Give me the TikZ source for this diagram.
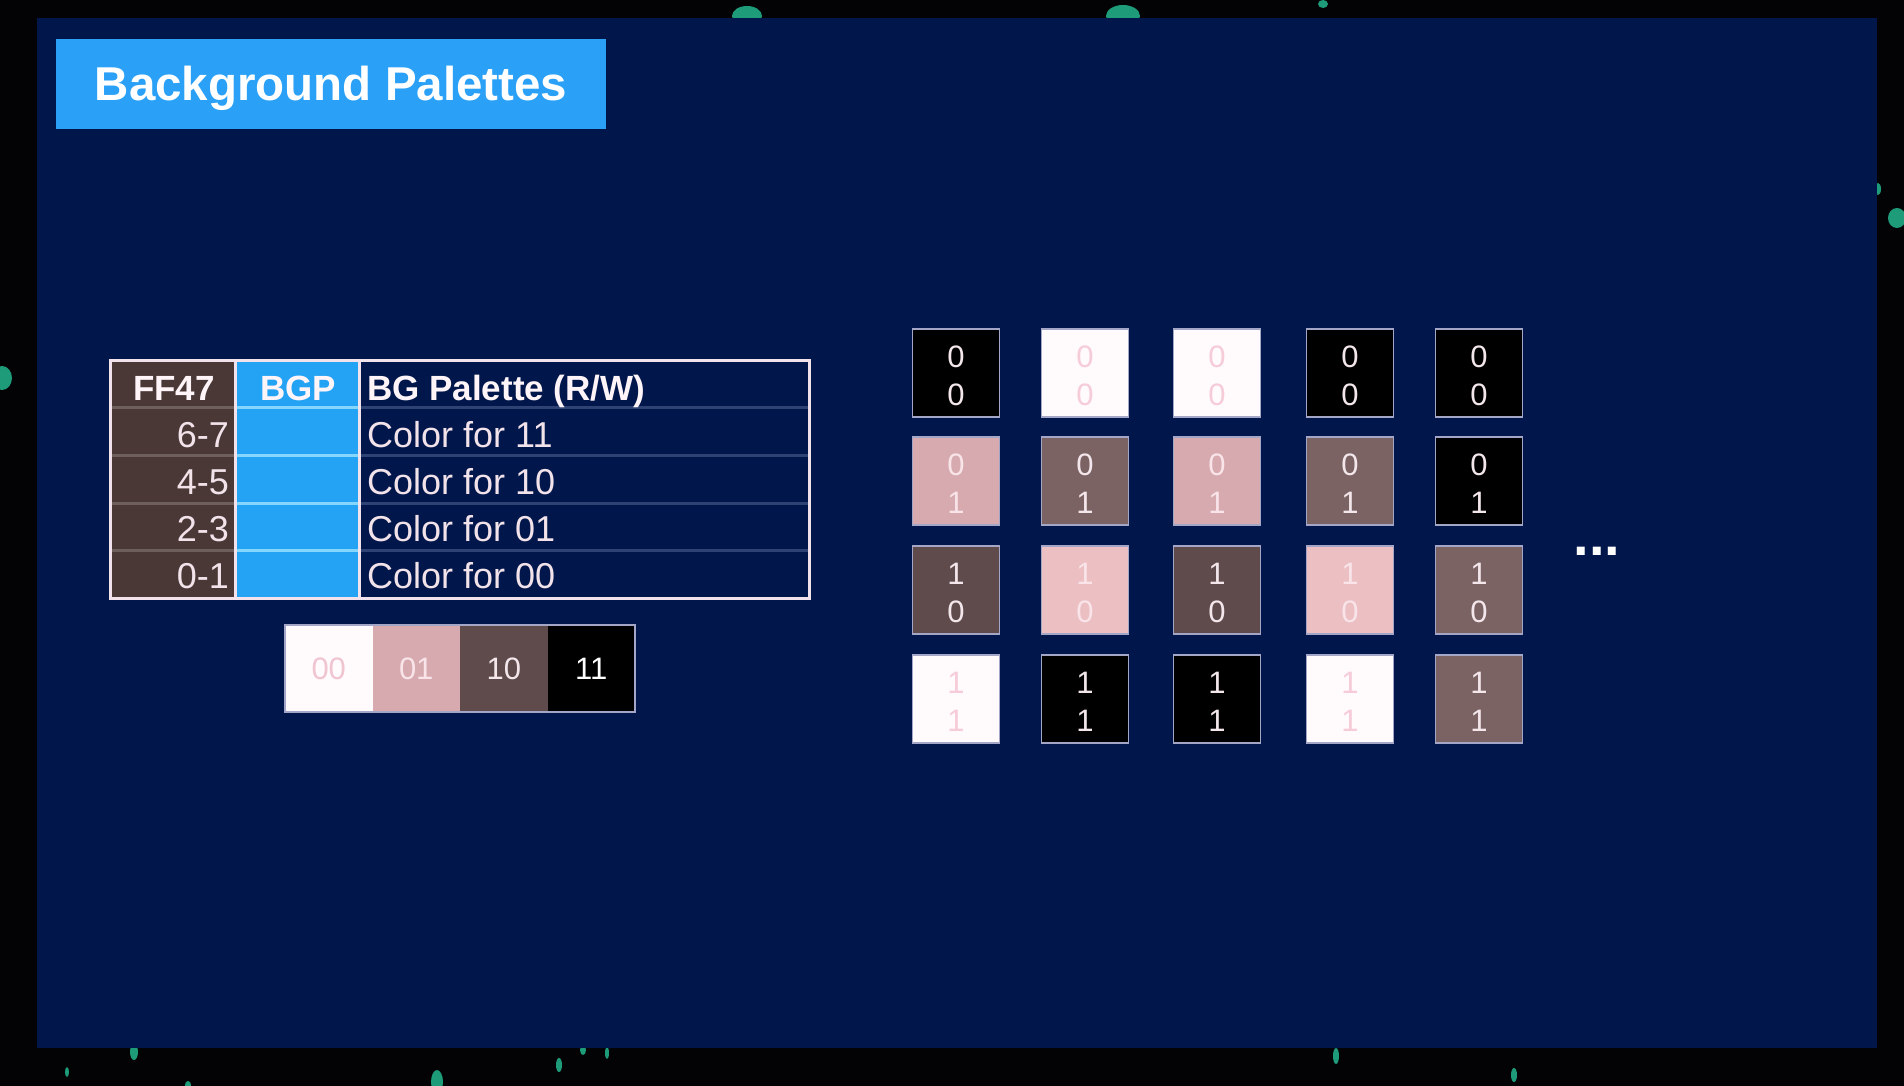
\documentclass[tikz,border=0pt]{standalone}
\usepackage{fontspec}
\setmainfont{Liberation Sans}
\definecolor{bgblack}{HTML}{030306}
\definecolor{navy}{HTML}{01164A}
\definecolor{titleblue}{HTML}{2AA1F7}
\definecolor{tblue}{HTML}{24A3F5}
\definecolor{tbrown}{HTML}{4A3836}
\definecolor{tborder}{HTML}{F2E2EC}
\definecolor{brownline}{HTML}{6E5F5D}
\definecolor{blueline}{HTML}{84D6FF}
\definecolor{navyline}{HTML}{2E4274}
\definecolor{txtpink}{HTML}{F2E2EA}
\definecolor{speck}{HTML}{1E9C7A}
\definecolor{cwhite}{HTML}{FFFAFC}
\definecolor{cpink}{HTML}{D6AAAE}
\definecolor{clpink}{HTML}{ECBFC3}
\definecolor{cbrown}{HTML}{5F4A4C}
\definecolor{cmbrown}{HTML}{7B6263}
\definecolor{cblack}{HTML}{000000}
\definecolor{tileedge}{HTML}{A4A6C8}
\definecolor{dlight}{HTML}{F3E7EC}
\definecolor{dfaint}{HTML}{F6CCD8}
\definecolor{donpink}{HTML}{F8E4E9}
\definecolor{hdrwhite}{HTML}{FFF4F8}
\newcommand\mytile[7]{%
  \node[tilebox, fill=#4] (#1) at (#2,#3) {};
  \node[digit, text=#5] (#1a) at ({#2},{#3-16}) {#6};
  \node[digit, text=#5] (#1b) at ({#2},{#3+22}) {#7};
}
\begin{document}
\begin{tikzpicture}[x=1pt,y=-1pt,
  titlebox/.style={fill=titleblue, minimum width=550, minimum height=90, inner sep=0,
     text height=34, text depth=0, text=white, font=\bfseries\fontsize{47.5}{50}\selectfont},
  hdr/.style={font=\bfseries\fontsize{35}{37}\selectfont, text=hdrwhite, inner sep=0, anchor=base},
  rowtxt/.style={font=\fontsize{36}{38}\selectfont, text=txtpink, inner sep=0},
  tilebox/.style={draw=tileedge, line width=1.5pt, minimum width=87, minimum height=88, inner sep=0},
  digit/.style={font=\fontsize{31}{33}\selectfont, inner sep=0},
  stripcell/.style={minimum width=87.5, minimum height=87, inner sep=0, font=\fontsize{31}{33}\selectfont},
  rowline/.style={line width=3pt},
  speckstyle/.style={fill=speck}
]
\useasboundingbox (0,0) rectangle (1904,1086);
\fill[bgblack] (0,0) rectangle (1904,1086);
% specks in the margin
\fill[speckstyle] (2,378) ellipse [x radius=10, y radius=12];
\fill[speckstyle] (747,16) ellipse [x radius=15, y radius=10];
\fill[speckstyle] (1123,16) ellipse [x radius=17, y radius=11];
\fill[speckstyle] (1323,4) ellipse [x radius=5, y radius=4];
\fill[speckstyle] (1878,189) ellipse [x radius=3, y radius=6];
\fill[speckstyle] (1897,218) ellipse [x radius=9, y radius=10];
\fill[speckstyle] (134,1052) ellipse [x radius=4, y radius=8];
\fill[speckstyle] (583,1050) ellipse [x radius=3, y radius=5];
\fill[speckstyle] (607,1053) ellipse [x radius=2, y radius=6];
\fill[speckstyle] (559,1065) ellipse [x radius=3, y radius=7];
\fill[speckstyle] (437,1082) ellipse [x radius=6, y radius=12];
\fill[speckstyle] (67,1072) ellipse [x radius=2, y radius=5];
\fill[speckstyle] (1336,1056) ellipse [x radius=3, y radius=8];
\fill[speckstyle] (1514,1075) ellipse [x radius=3, y radius=7];
\fill[speckstyle] (188,1085) ellipse [x radius=3, y radius=4];
% panel
\fill[navy] (37,18) rectangle (1877,1048);
% title
\node[titlebox] (title) at (331,84) {Background Palettes};
% table
\fill[tbrown] (110,360) rectangle (235,598);
\fill[tblue] (235,360) rectangle (359,598);
\foreach \yy in {407,455,503,550} {
  \draw[rowline, brownline] (110,\yy) -- (235,\yy);
  \draw[rowline, blueline] (235,\yy) -- (359,\yy);
  \draw[rowline, navyline] (359,\yy) -- (809,\yy);
}
\draw[line width=3pt, tborder] (235,360) -- (235,598);
\draw[line width=3pt, tborder] (359,360) -- (359,598);
\draw[line width=3pt, tborder] (110,360) rectangle (809,598);
\node[hdr] (hff) at (174,400) {FF47};
\node[hdr] (hbgp) at (298,400) {BGP};
\node[hdr, anchor=base west] (hpal) at (367,400) {BG Palette (R/W)};
\node[rowtxt, anchor=base east] (r1n) at (229,447) {6-7};
\node[rowtxt, anchor=base east] (r2n) at (229,494) {4-5};
\node[rowtxt, anchor=base east] (r3n) at (229,541) {2-3};
\node[rowtxt, anchor=base east] (r4n) at (229,588) {0-1};
\node[rowtxt, anchor=base west] (r1c) at (367,447) {Color for 11};
\node[rowtxt, anchor=base west] (r2c) at (367,494) {Color for 10};
\node[rowtxt, anchor=base west] (r3c) at (367,541) {Color for 01};
\node[rowtxt, anchor=base west] (r4c) at (367,588) {Color for 00};
% palette strip
\node[stripcell, fill=cwhite, text=dfaint!80!cpink] (p00) at (328.75,668.5) {00};
\node[stripcell, fill=cpink, text=donpink] (p01) at (416.25,668.5) {01};
\node[stripcell, fill=cbrown, text=dlight] (p10) at (503.75,668.5) {10};
\node[stripcell, fill=cblack, text=white] (p11) at (591.25,668.5) {11};
\draw[tileedge, line width=1.5pt] (p00.north west) rectangle (p11.south east);
% tile grid
\mytile{t11}{956}{373}{cblack}{dlight}{0}{0}
\mytile{t12}{1085}{373}{cwhite}{dfaint}{0}{0}
\mytile{t13}{1217}{373}{cwhite}{dfaint}{0}{0}
\mytile{t14}{1350}{373}{cblack}{dlight}{0}{0}
\mytile{t15}{1479}{373}{cblack}{dlight}{0}{0}
\mytile{t21}{956}{481}{cpink}{donpink}{0}{1}
\mytile{t22}{1085}{481}{cmbrown}{dlight}{0}{1}
\mytile{t23}{1217}{481}{cpink}{donpink}{0}{1}
\mytile{t24}{1350}{481}{cmbrown}{dlight}{0}{1}
\mytile{t25}{1479}{481}{cblack}{dlight}{0}{1}
\mytile{t31}{956}{590}{cbrown}{dlight}{1}{0}
\mytile{t32}{1085}{590}{clpink}{donpink}{1}{0}
\mytile{t33}{1217}{590}{cbrown}{dlight}{1}{0}
\mytile{t34}{1350}{590}{clpink}{donpink}{1}{0}
\mytile{t35}{1479}{590}{cmbrown}{dlight}{1}{0}
\mytile{t41}{956}{699}{cwhite}{dfaint}{1}{1}
\mytile{t42}{1085}{699}{cblack}{dlight}{1}{1}
\mytile{t43}{1217}{699}{cblack}{dlight}{1}{1}
\mytile{t44}{1350}{699}{cwhite}{dfaint}{1}{1}
\mytile{t45}{1479}{699}{cmbrown}{dlight}{1}{1}
% ellipsis
\node[font=\bfseries\fontsize{56}{58}\selectfont, text=white, inner sep=0, anchor=base] (dots) at (1597,555) {...};
\end{tikzpicture}
\end{document}
